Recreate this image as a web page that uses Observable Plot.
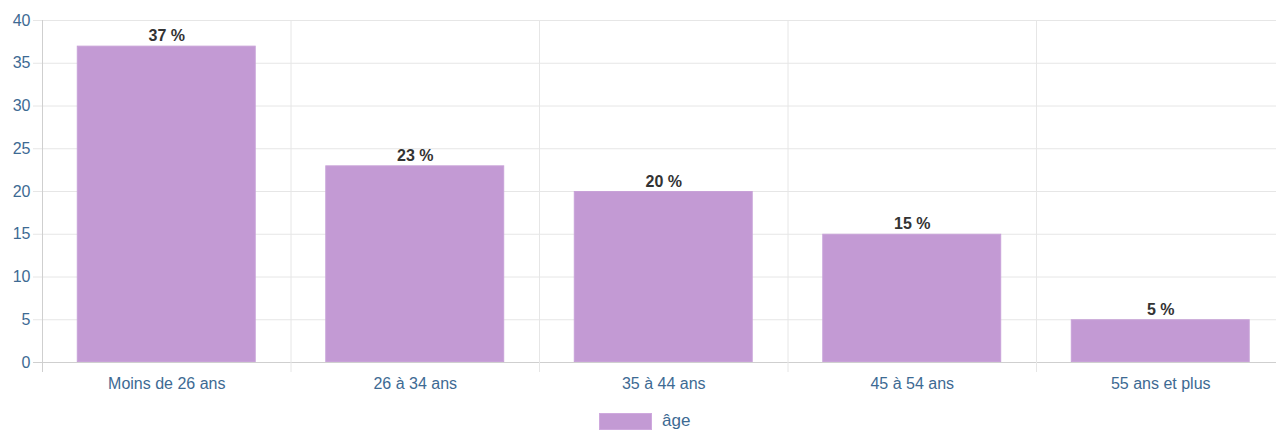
<!DOCTYPE html>
<html>
<head>
<meta charset="utf-8">
<script src="https://cdn.jsdelivr.net/npm/d3@7"></script>
<script src="https://cdn.jsdelivr.net/npm/@observablehq/plot@0.6"></script>
<style>
  html, body { margin: 0; padding: 0; background: #fff; overflow: hidden; width: 1276px; height: 435px; }
  #chart { position: absolute; left: 0; top: 0; width: 1285px; }
  #chart svg { max-width: none !important; }
  #legend { position: absolute; left: 599px; top: 411px; display: flex; align-items: center; font-family: "Liberation Sans", Arial, sans-serif; font-size: 17px; color: #3d6a93; }
  #legend .sw { width: 53px; height: 17px; background: #c39ad4; border: 1px solid #cfa9de; box-sizing: border-box; margin-right: 10px; }
</style>
</head>
<body>
<div id="chart"></div>
<div id="legend"><span class="sw"></span><span>âge</span></div>
<script>
const categories = ["Moins de 26 ans", "26 à 34 ans", "35 à 44 ans", "45 à 54 ans", "55 ans et plus"];
const values = [37, 23, 20, 15, 5];
const yTicks = [0, 5, 10, 15, 20, 25, 30, 35, 40];
const seriesName = "âge";

const data = categories.map((c, i) => ({cat: c, v: values[i]}));

const left = 42, right = 1284.5;
const step = (right - left) / categories.length;

const chart = Plot.plot({
  width: 1285,
  height: 400,
  marginTop: 20,
  marginBottom: 38,
  marginLeft: left,
  marginRight: 1285 - right,
  style: { fontFamily: "Liberation Sans, Arial, sans-serif", fontSize: "16px", background: "transparent", maxWidth: "none" },
  x: { domain: categories, paddingInner: 0.28, paddingOuter: 0.14, round: false, label: null },
  y: { domain: [0, 40], label: null },
  marks: [
    Plot.ruleY(yTicks, { y: d => d, stroke: d => d === 0 ? "#cfcfcf" : "#e6e6e6", insetLeft: -9 }),
    Plot.ruleX(categories, { x: d => d, dx: -step / 2, y1: 40, y2: 0, stroke: d => d === categories[0] ? "#cfcfcf" : "#e6e6e6", insetBottom: -10 }),
    Plot.ruleX(categories.slice(-1), { x: d => d, dx: step / 2, y1: 40, y2: 0, stroke: "#e6e6e6", insetBottom: -10 }),
    Plot.barY(data, { x: "cat", y: "v", fill: "#c39ad4", stroke: "#c8a2d8", strokeWidth: 1, inset: 0.5 }),
    Plot.text(data, { x: "cat", y: "v", text: d => d.v + " %", lineAnchor: "bottom", dy: -5, fontWeight: "bold", fill: "#333", fontSize: 16 }),
    Plot.axisY(yTicks, { tickSize: 0, tickPadding: 12, fill: "#3d6a93", fontSize: 16 }),
    Plot.axisX({ tickSize: 0, tickPadding: 15, fill: "#3d6a93", fontSize: 16 })
  ]
});
chart.style.maxWidth = "none";
document.getElementById("chart").appendChild(chart);
</script>
</body>
</html>
